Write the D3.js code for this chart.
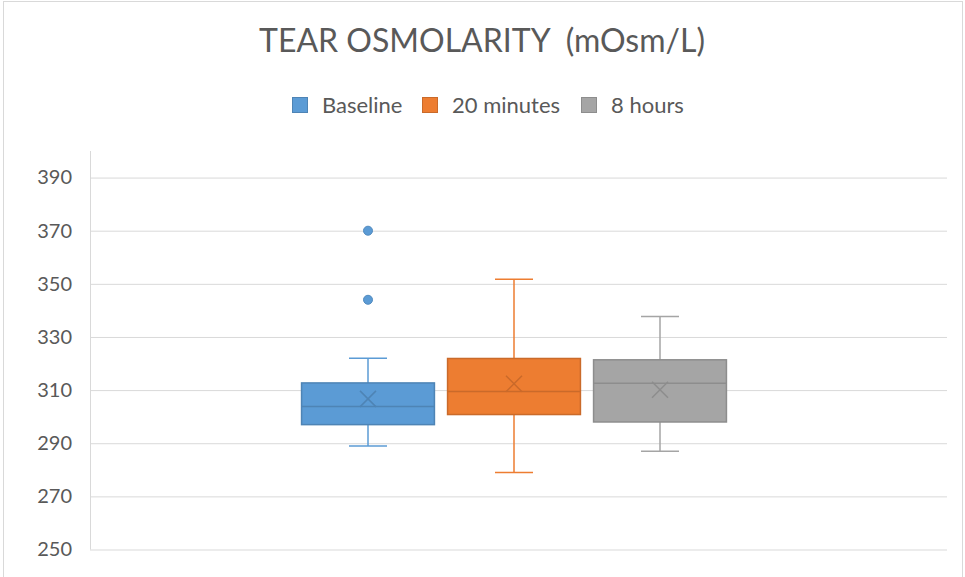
<!DOCTYPE html>
<html>
<head>
<meta charset="utf-8">
<script src="https://cdn.jsdelivr.net/npm/d3@7"></script>
<style>
  body { margin: 0; background: #fff; }
  text { font-family: Lato, "Open Sans", sans-serif; fill: #595959; }
</style>
</head>
<body>
<div id="chart-area"></div>
<script>
// DATA
var series = ["Baseline", "20 minutes", "8 hours"];
var whiskerLow = [289, 279, 287];
var q1 = [297, 300.8, 298];
var median = [303.8, 309.5, 312.6];
var q3 = [312.7, 321.9, 321.4];
var whiskerHigh = [322, 351.7, 337.7];
var means = [306.7, 312.4, 310.1];
var outliers = [[344, 370], [], []];
var yTicks = [250, 270, 290, 310, 330, 350, 370, 390];
var colors = ["#5B9BD5", "#ED7D31", "#A5A5A5"];

var width = 965, height = 577;
var margin = { left: 90, right: 18, top: 151, bottom: 28 };

var svg = d3.select("#chart-area").append("svg")
    .attr("width", width)
    .attr("height", height);

// chart border
svg.append("rect")
    .attr("x", 3.5).attr("y", 1.5)
    .attr("width", 959).attr("height", 590)
    .attr("fill", "none")
    .attr("stroke", "#d9d9d9");

// Scales
var y = d3.scaleLinear().domain([250, 400])
    .range([height - margin.bottom + 0.5, margin.top]);
var x = d3.scaleBand().domain(series)
    .range([295, 733])
    .paddingInner(0.09)
    .paddingOuter(0.045);

// Title
svg.append("text")
    .attr("x", 482).attr("y", 52)
    .attr("text-anchor", "middle")
    .style("font-size", "32px")
    .style("white-space", "pre")
    .text("TEAR OSMOLARITY  (mOsm/L)");

// Gridlines + axis
var yAxisCall = d3.axisLeft(y).tickValues(yTicks).tickSize(-(width - margin.left - margin.right)).tickPadding(18);
var yAxis = svg.append("g")
    .attr("transform", "translate(" + margin.left + ",0)")
    .call(yAxisCall);
yAxis.select(".domain").attr("stroke", "#d9d9d9");
yAxis.selectAll(".tick line").attr("stroke", "#d9d9d9");
yAxis.selectAll(".tick text")
    .attr("fill", "#595959")
    .style("font-size", "20px")
    .style("font-family", "Lato, 'Open Sans', sans-serif");
yAxis.select(".domain").attr("d", "M0.5," + y(400) + "V" + y(250));

// Boxes
var idx = d3.range(series.length);
var g = svg.append("g");

var box = g.selectAll(".box").data(idx).enter().append("g").attr("class", "box");
var cx = function(i) { return x(series[i]) + x.bandwidth() / 2; };

// whiskers
box.append("line")
    .attr("x1", cx).attr("x2", cx)
    .attr("y1", function(i) { return y(whiskerLow[i]); })
    .attr("y2", function(i) { return y(whiskerHigh[i]); })
    .attr("stroke", function(i) { return colors[i]; })
    .attr("stroke-width", 1.5);
[whiskerLow, whiskerHigh].forEach(function(arr) {
  box.append("line")
    .attr("x1", function(i) { return cx(i) - 19; })
    .attr("x2", function(i) { return cx(i) + 19; })
    .attr("y1", function(i) { return y(arr[i]); })
    .attr("y2", function(i) { return y(arr[i]); })
    .attr("stroke", function(i) { return colors[i]; })
    .attr("stroke-width", 1.5);
});

box.append("rect")
    .attr("x", function(i) { return x(series[i]); })
    .attr("width", x.bandwidth())
    .attr("y", function(i) { return y(q3[i]); })
    .attr("height", function(i) { return y(q1[i]) - y(q3[i]); })
    .attr("fill", function(i) { return colors[i]; })
    .attr("stroke", function(i) { return d3.color(colors[i]).darker(0.45); })
    .attr("stroke-width", 1.5);

box.append("line")
    .attr("x1", function(i) { return x(series[i]); })
    .attr("x2", function(i) { return x(series[i]) + x.bandwidth(); })
    .attr("y1", function(i) { return y(median[i]); })
    .attr("y2", function(i) { return y(median[i]); })
    .attr("stroke", function(i) { return d3.color(colors[i]).darker(0.45); })
    .attr("stroke-width", 1.5);

// mean markers (X)
box.append("path")
    .attr("d", function(i) {
      var px = cx(i), py = y(means[i]), s = 8;
      return "M" + (px - s) + "," + (py - s) + "L" + (px + s) + "," + (py + s) +
             "M" + (px - s) + "," + (py + s) + "L" + (px + s) + "," + (py - s);
    })
    .attr("stroke", function(i) { return d3.color(colors[i]).darker(0.45); })
    .attr("stroke-width", 1.5)
    .attr("fill", "none");

// outliers
box.each(function(i) {
  d3.select(this).selectAll("circle").data(outliers[i]).enter().append("circle")
    .attr("cx", cx(i))
    .attr("cy", function(d) { return y(d); })
    .attr("r", 4.5)
    .attr("fill", colors[i])
    .attr("stroke", d3.color(colors[i]).darker(0.3));
});

// Legend
var legendX = [292, 422, 581];
var legend = svg.selectAll(".legend").data(idx).enter().append("g")
    .attr("class", "legend")
    .attr("transform", function(i) { return "translate(" + legendX[i] + ",97)"; });
legend.append("rect")
    .attr("x", 0.5).attr("y", 0.5)
    .attr("width", 15).attr("height", 15)
    .attr("fill", function(i) { return colors[i]; })
    .attr("stroke", function(i) { return d3.color(colors[i]).darker(0.45); });
legend.append("text")
    .attr("x", 30).attr("y", 15.5)
    .style("font-size", "22px")
    .text(function(i) { return series[i]; });
</script>
</body>
</html>
